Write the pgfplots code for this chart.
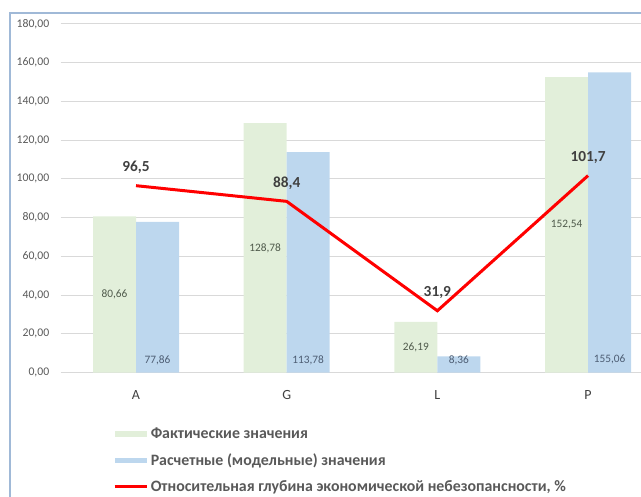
\documentclass[border=0pt]{standalone}
\usepackage{pgfplots}
\pgfplotsset{compat=1.18}
\usepackage{fontspec}
\setmainfont{Carlito}

\definecolor{factgreen}{HTML}{E2EFDA}
\definecolor{modelblue}{HTML}{BDD7EE}
\definecolor{gridgray}{HTML}{D9D9D9}
\definecolor{txtgray}{HTML}{595959}
\definecolor{lblgray}{HTML}{404040}
\definecolor{greenlbl}{HTML}{4F5A4B}
\definecolor{bluelbl}{HTML}{4D5D73}
\definecolor{framecol}{RGB}{160,185,215}
\definecolor{lineRed}{HTML}{FF0000}

\begin{document}
\begin{tikzpicture}
	\useasboundingbox (0,0) rectangle (480.75pt,372pt);
	% chart frame (left and top edges visible)
	\draw[framecol, line width=1.2pt] (7.5pt,-5pt) -- (7.5pt,362.25pt) -- (490pt,362.25pt);
	\begin{axis}[at={(45.5pt,92.6pt)}, anchor=south west,
		scale only axis,
		width=435.2pt, height=261.4pt,
		xmin=-0.5, xmax=3.351,
		ymin=0, ymax=180,
		xtick={0,1,2,3},
		xticklabels={A,G,L,P},
		ytick={0,20,...,180},
		ymajorgrids,
		grid style={gridgray, line width=0.75pt},
		axis line style={draw=none},
		major tick length=0pt,
		tick label style={font=\fontsize{8.8}{10}\selectfont, text=txtgray},
		xticklabel style={font=\fontsize{10.5}{12}\selectfont, text=lblgray, yshift=-10pt},
		yticklabel style={xshift=-5pt,
			/pgf/number format/.cd, fixed, fixed zerofill, precision=2, use comma, assume math mode=true},
		legend style={draw=none, fill=none,
			at={(rel axis cs:0.083,-0.142)}, anchor=north west,
			font=\bfseries\fontsize{11.9}{13.5}\selectfont, text=txtgray,
			row sep=5.8pt},
		legend cell align=left,
		]
		% Fakticheskie
		\addplot[ybar, bar width=32.25pt, bar shift=-16.125pt, fill=factgreen, draw=none,
			legend image code/.code={\fill[factgreen] (0pt,-2pt) rectangle (24pt,2pt);},
			visualization depends on=rawy \as \rawy,
			nodes near coords={\pgfmathprintnumber[fixed,fixed zerofill,precision=2,use comma,assume math mode=true]{\pgfplotspointmeta}},
			every node near coord/.append style={anchor=center, xshift=-16.125pt, yshift={-\rawy*0.7261pt},
				font=\fontsize{8.5}{10}\selectfont, text=greenlbl}]
			coordinates {(0,80.66) (1,128.78) (2,26.19) (3,152.54)};
		\addlegendentry{Фактические значения}
		% Raschetnye
		\addplot[ybar, bar width=32.25pt, bar shift=16.125pt, fill=modelblue, draw=none,
			legend image code/.code={\fill[modelblue] (0pt,-2pt) rectangle (24pt,2pt);},
			visualization depends on=rawy \as \rawy,
			nodes near coords={\pgfmathprintnumber[fixed,fixed zerofill,precision=2,use comma,assume math mode=true]{\pgfplotspointmeta}},
			every node near coord/.append style={anchor=center, xshift=16.125pt, yshift={-\rawy*1.4522pt+9.5pt},
				font=\fontsize{8.5}{10}\selectfont, text=bluelbl}]
			coordinates {(0,77.86) (1,113.78) (2,8.36) (3,155.06)};
		\addlegendentry{Расчетные (модельные) значения}
		% glubina
		\addplot[lineRed, line width=2.25pt, mark=none,
			legend image code/.code={\draw[lineRed, line width=2.25pt] (0pt,0pt) -- (24pt,0pt);},
			nodes near coords={\pgfmathprintnumber[fixed,precision=1,use comma,assume math mode=true]{\pgfplotspointmeta}},
			every node near coord/.append style={anchor=center, yshift=13.5pt,
				font=\bfseries\fontsize{11.5}{13}\selectfont, text=lblgray}]
			coordinates {(0,96.5) (1,88.4) (2,31.9) (3,101.7)};
		\addlegendentry{Относительная глубина экономической небезопансности, \%}
	\end{axis}
\end{tikzpicture}
\end{document}
